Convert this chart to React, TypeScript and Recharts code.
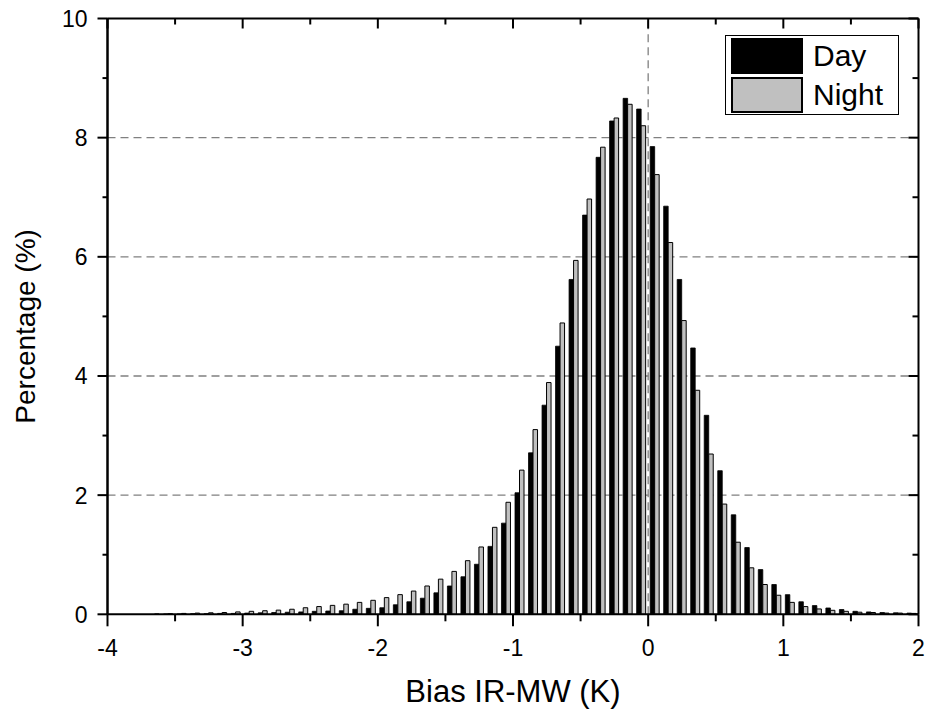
import { BarChart, Bar, XAxis, YAxis, CartesianGrid, ReferenceLine, Legend } from 'recharts'

// histogram bins of the IR-MW bias, 0.1 K wide, labelled by their centres
const binCenters = [
  -3.95, -3.85, -3.75, -3.65, -3.55, -3.45, -3.35, -3.25, -3.15, -3.05,
  -2.95, -2.85, -2.75, -2.65, -2.55, -2.45, -2.35, -2.25, -2.15, -2.05,
  -1.95, -1.85, -1.75, -1.65, -1.55, -1.45, -1.35, -1.25, -1.15, -1.05,
  -0.95, -0.85, -0.75, -0.65, -0.55, -0.45, -0.35, -0.25, -0.15, -0.05,
  0.05, 0.15, 0.25, 0.35, 0.45, 0.55, 0.65, 0.75, 0.85, 0.95,
  1.05, 1.15, 1.25, 1.35, 1.45, 1.55, 1.65, 1.75, 1.85, 1.95,
]

// percentage of matchups per bin
const dayPct = [
  0, 0, 0, 0, 0.005, 0.005, 0.01, 0.01, 0.015, 0.015,
  0.02, 0.025, 0.03, 0.035, 0.04, 0.05, 0.055, 0.06, 0.085, 0.1,
  0.11, 0.16, 0.21, 0.27, 0.36, 0.475, 0.63, 0.84, 1.14, 1.53,
  2.04, 2.71, 3.51, 4.5, 5.62, 6.7, 7.67, 8.28, 8.66, 8.48,
  7.85, 6.85, 5.62, 4.47, 3.34, 2.41, 1.67, 1.12, 0.75, 0.5,
  0.33, 0.21, 0.146, 0.106, 0.08, 0.05, 0.04, 0.03, 0.025, 0.02,
]

const nightPct = [
  0, 0, 0, 0.005, 0.01, 0.015, 0.02, 0.025, 0.03, 0.04,
  0.05, 0.06, 0.07, 0.085, 0.11, 0.13, 0.15, 0.17, 0.2, 0.235,
  0.28, 0.33, 0.39, 0.475, 0.59, 0.72, 0.9, 1.13, 1.46, 1.88,
  2.42, 3.1, 3.89, 4.89, 5.94, 6.97, 7.84, 8.33, 8.56, 8.2,
  7.38, 6.24, 4.93, 3.76, 2.69, 1.85, 1.21, 0.78, 0.5, 0.32,
  0.2, 0.13, 0.09, 0.067, 0.05, 0.035, 0.03, 0.02, 0.02, 0.015,
]

const xTicks = [-4, -3.5, -3, -2.5, -2, -1.5, -1, -0.5, 0, 0.5, 1, 1.5, 2]
const yTicks = [0, 1, 2, 3, 4, 5, 6, 7, 8, 9, 10]
const gridLevels = [2, 4, 6, 8]

const data = binCenters.map((bin, i) => ({ bin, day: dayPct[i], night: nightPct[i] }))

const FONT = '"Liberation Sans", Arial, sans-serif'
const isMajor = (v: number) => Math.abs(v - Math.round(v)) < 1e-9
const axisStroke = { stroke: '#000', strokeWidth: 2 }

function BottomTick({ x, y, payload }: any) {
  const major = isMajor(payload.value)
  return (
    <g>
      <line x1={x} x2={x} y1={y} y2={y + (major ? 12 : 7)} stroke="#000" strokeWidth={2} />
      {major && (
        <text x={x} y={y + 42} textAnchor="middle" fontSize={23} fontFamily={FONT} fill="#000">
          {payload.value}
        </text>
      )}
    </g>
  )
}

function TopTick({ x, y, payload }: any) {
  const major = isMajor(payload.value)
  return <line x1={x} x2={x} y1={y} y2={y + (major ? 10 : 6)} stroke="#000" strokeWidth={2} />
}

function LeftTick({ x, y, payload }: any) {
  const major = payload.value % 2 === 0
  return (
    <g>
      <line x1={x} x2={x - (major ? 10 : 5)} y1={y} y2={y} stroke="#000" strokeWidth={2} />
      {major && (
        <text x={x - 20} y={y + 8.5} textAnchor="end" fontSize={23} fontFamily={FONT} fill="#000">
          {payload.value}
        </text>
      )}
    </g>
  )
}

function RightTick({ x, y, payload }: any) {
  const major = payload.value % 2 === 0
  return <line x1={x} x2={x - (major ? 10 : 6)} y1={y} y2={y} stroke="#000" strokeWidth={2} />
}

function XTitle({ viewBox }: any) {
  return (
    <text x={viewBox.x + viewBox.width / 2} y={viewBox.y + 88} textAnchor="middle" fontSize={31} fontFamily={FONT} fill="#000">
      Bias IR-MW (K)
    </text>
  )
}

function YTitle({ viewBox }: any) {
  const cx = 35
  const cy = viewBox.y + viewBox.height / 2 + 10
  return (
    <text x={cx} y={cy} transform={`rotate(-90, ${cx}, ${cy})`} textAnchor="middle" fontSize={28} fontFamily={FONT} fill="#000">
      Percentage (%)
    </text>
  )
}

function BoxLegend({ payload }: any) {
  return (
    <div style={{ width: 172, height: 78, border: '1px solid #000', background: '#fff', position: 'relative' }}>
      {(payload || []).map((item: any, i: number) => (
        <div key={item.value} style={{ position: 'absolute', left: 5, top: 1 + i * 39.5, height: 37, display: 'flex', alignItems: 'center' }}>
          <div
            style={{
              width: 72,
              height: 36,
              boxSizing: 'border-box',
              background: item.value === 'Day' ? '#000' : '#c0c0c0',
              border: '2px solid #000',
            }}
          />
          <span style={{ marginLeft: 10, fontSize: 30, fontFamily: FONT, color: '#000', lineHeight: '36px' }}>{item.value}</span>
        </div>
      ))}
    </div>
  )
}

export default function App() {
  return (
    <div style={{ position: 'absolute', left: 0, top: 0, width: 925, height: 712, background: '#fff' }}>
      <BarChart width={925} height={712} data={data} barGap={0} margin={{ top: 17.5, right: 5.5, bottom: 0, left: 0 }}>
        <CartesianGrid
          xAxisId="num"
          vertical={false}
          horizontalValues={gridLevels}
          stroke="#808080"
          strokeWidth={1.3}
          strokeDasharray="8 5"
        />
        <XAxis xAxisId="cat" dataKey="bin" type="category" hide height={0} />
        <XAxis
          xAxisId="num"
          dataKey="bin"
          type="number"
          domain={[-4, 2]}
          allowDataOverflow
          ticks={xTicks}
          interval={0}
          height={97.7}
          tickSize={0}
          tickMargin={0}
          tickLine={false}
          tick={BottomTick}
          axisLine={axisStroke}
          label={XTitle}
        />
        <XAxis
          xAxisId="top"
          orientation="top"
          dataKey="bin"
          type="number"
          domain={[-4, 2]}
          allowDataOverflow
          ticks={xTicks}
          interval={0}
          height={1}
          tickSize={0}
          tickMargin={0}
          tickLine={false}
          tick={TopTick}
          axisLine={axisStroke}
        />
        <YAxis
          type="number"
          domain={[0, 10]}
          allowDataOverflow
          ticks={yTicks}
          interval={0}
          width={107.5}
          tickSize={0}
          tickMargin={0}
          tickLine={false}
          tick={LeftTick}
          axisLine={axisStroke}
          label={YTitle}
        />
        <YAxis
          yAxisId="right"
          orientation="right"
          type="number"
          domain={[0, 10]}
          allowDataOverflow
          ticks={yTicks}
          interval={0}
          width={1}
          tickSize={0}
          tickMargin={0}
          tickLine={false}
          tick={RightTick}
          axisLine={axisStroke}
        />
        <Bar xAxisId="cat" dataKey="day" name="Day" fill="#000" stroke="#000" strokeWidth={0.8} barSize={4.5} isAnimationActive={false} />
        <Bar xAxisId="cat" dataKey="night" name="Night" fill="#c0c0c0" stroke="#000" strokeWidth={1} barSize={4.5} isAnimationActive={false} />
        <ReferenceLine xAxisId="num" x={0} stroke="#808080" strokeWidth={1.3} strokeDasharray="8 5" />
        {/* left frame edge, drawn again so it stays solid over the plot */}
        <ReferenceLine xAxisId="num" x={-4} stroke="#000" strokeWidth={2} />
        <Legend
          layout="vertical"
          align="center"
          verticalAlign="middle"
          wrapperStyle={{ left: 725, top: 35, width: 174, height: 80 }}
          content={BoxLegend}
        />
      </BarChart>
    </div>
  )
}
